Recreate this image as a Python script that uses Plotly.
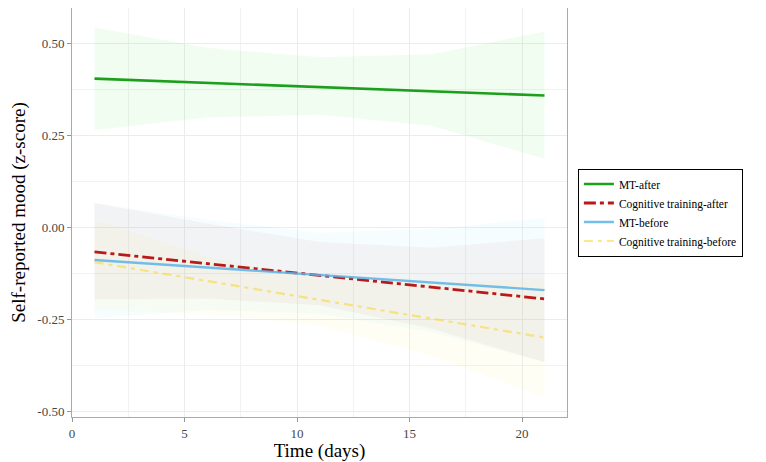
import plotly.graph_objects as go

# fitted lines and confidence band knots
days = [1, 6, 11, 16, 21]

mt_after = [0.404, 0.392, 0.381, 0.370, 0.358]
mt_after_hi = [0.543, 0.488, 0.462, 0.470, 0.532]
mt_after_lo = [0.264, 0.298, 0.306, 0.275, 0.186]

cog_after = [-0.067, -0.099, -0.131, -0.163, -0.195]
cog_after_hi = [0.066, 0.010, -0.040, -0.056, -0.030]
cog_after_lo = [-0.196, -0.194, -0.212, -0.276, -0.367]

mt_before = [-0.089, -0.110, -0.130, -0.150, -0.171]
mt_before_hi = [0.066, 0.020, -0.015, -0.005, 0.025]
mt_before_lo = [-0.247, -0.225, -0.235, -0.285, -0.367]

cog_before = [-0.095, -0.146, -0.197, -0.248, -0.300]
cog_before_hi = [0.020, -0.080, -0.140, -0.150, -0.140]
cog_before_lo = [-0.225, -0.235, -0.268, -0.350, -0.463]

# drawing order: bands of later entries sit on top
series = [
    ("MT-after", mt_after, mt_after_hi, mt_after_lo,
     "rgb(28,160,28)", "rgba(60,220,60,0.07)", "solid", 2.6),
    ("Cognitive training-after", cog_after, cog_after_hi, cog_after_lo,
     "rgb(185,25,25)", "rgba(170,60,50,0.05)", "12px,4px,4px,4px", 2.8),
    ("MT-before", mt_before, mt_before_hi, mt_before_lo,
     "rgba(90,180,230,0.85)", "rgba(100,220,255,0.06)", "solid", 2.4),
    ("Cognitive training-before", cog_before, cog_before_hi, cog_before_lo,
     "rgba(250,215,60,0.6)", "rgba(255,230,60,0.06)", "9px,5px,4px,5px", 2.2),
]
band_order = [0, 3, 2, 1]

fig = go.Figure()

for i in band_order:
    name, y, hi, lo, color, fillc, dash, width = series[i]
    fig.add_trace(go.Scatter(
        x=days + days[::-1], y=hi + lo[::-1],
        fill="toself", fillcolor=fillc, line=dict(width=0),
        mode="lines", hoverinfo="skip", showlegend=False,
    ))

for name, y, hi, lo, color, fillc, dash, width in series:
    fig.add_trace(go.Scatter(
        x=days, y=y, name=name, mode="lines",
        line=dict(color=color, width=width, dash=dash),
    ))

font = "Liberation Serif, Times New Roman, serif"

fig.update_xaxes(
    range=[0, 22], tickvals=[0, 5, 10, 15, 20], automargin=False,
    title=dict(text="Time (days)", font=dict(size=19, color="black"), standoff=4),
    showgrid=True, gridcolor="rgb(236,236,236)", gridwidth=1,
    minor=dict(dtick=2.5, showgrid=True, gridcolor="rgb(242,242,242)"),
    showline=True, linecolor="rgb(170,170,170)", linewidth=1, mirror=True,
    ticks="outside", ticklen=4, tickcolor="rgb(150,150,150)",
    tickfont=dict(size=13, color="rgb(70,70,70)"), zeroline=False,
)
fig.update_yaxes(
    range=[-0.516, 0.596], tickvals=[-0.5, -0.25, 0, 0.25, 0.5], automargin=False,
    ticktext=["-0.50", "-0.25", "0.00", "0.25", "0.50"],
    title=dict(text="Self-reported mood (z-score)", font=dict(size=19, color="black"), standoff=8),
    showgrid=True, gridcolor="rgb(236,236,236)", gridwidth=1,
    minor=dict(dtick=0.125, showgrid=True, gridcolor="rgb(242,242,242)"),
    showline=True, linecolor="rgb(170,170,170)", linewidth=1, mirror=True,
    ticks="outside", ticklen=4, tickcolor="rgb(150,150,150)",
    tickfont=dict(size=13, color="rgb(70,70,70)"), zeroline=False,
)

# the page puts the figure 8px in from the top-left corner
fig.update_layout(
    width=758, height=454,
    margin=dict(l=64, r=199, t=0, b=45, autoexpand=False),
    plot_bgcolor="white", paper_bgcolor="white",
    font=dict(family=font, color="black"),
    legend=dict(
        x=1.022, y=0.5, xanchor="left", yanchor="middle",
        bordercolor="black", borderwidth=1,
        font=dict(size=11.5), tracegroupgap=0,
    ),
)

fig.write_html("out.html")
